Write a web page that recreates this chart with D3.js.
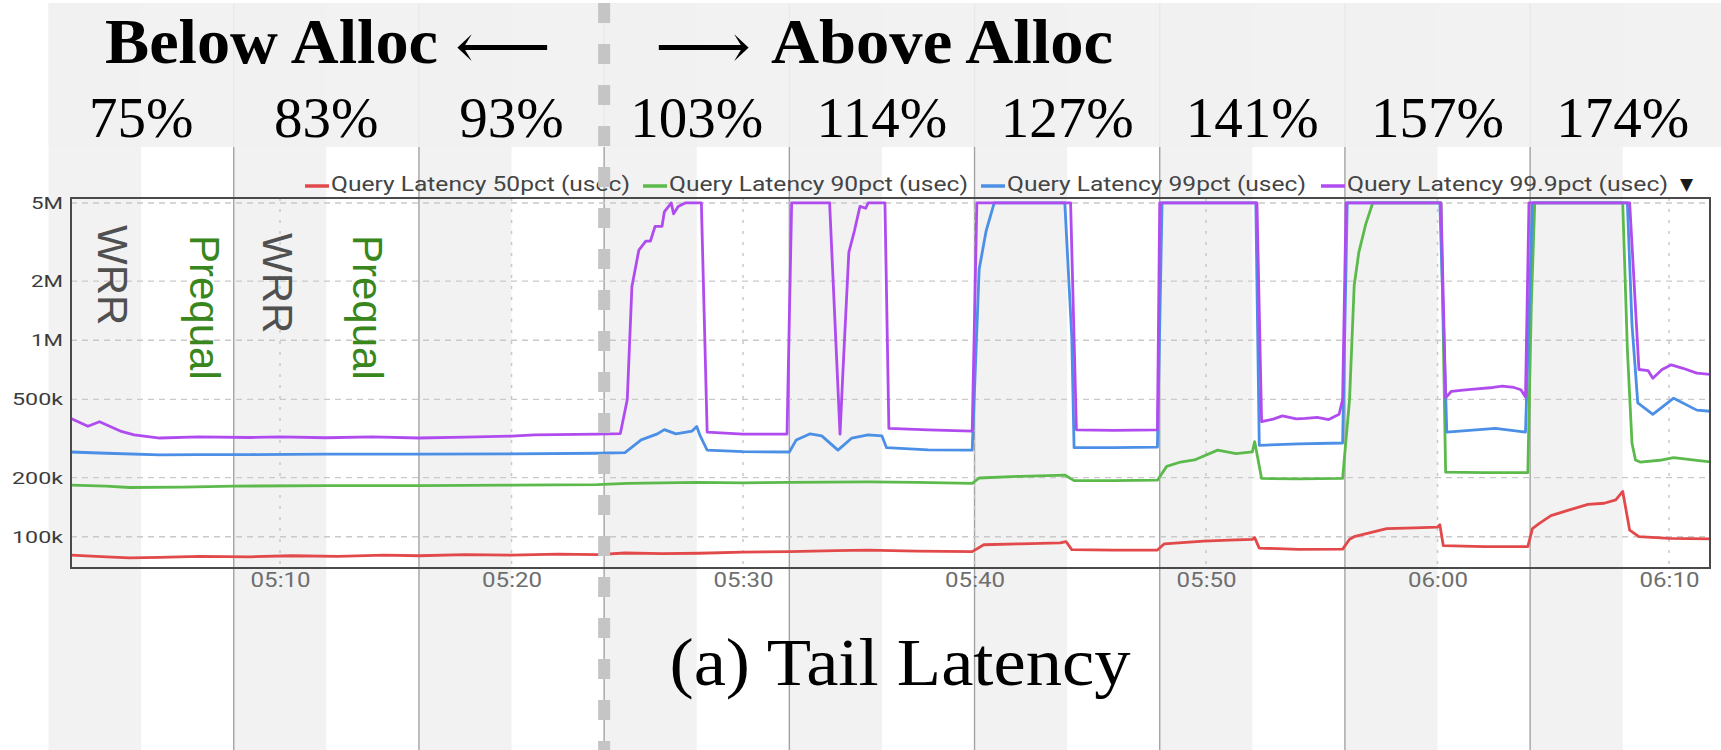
<!DOCTYPE html>
<html>
<head>
<meta charset="utf-8">
<script src="https://cdn.jsdelivr.net/npm/d3@7"></script>
<style>
  html, body { margin: 0; padding: 0; background: #fff; }
  svg { display: block; }
</style>
</head>
<body>
<svg id="chart" width="1721" height="750"></svg>
<script>
// Load levels, one per 8-minute step (first half WRR, second half Prequal)
const loadLevels = ["75%", "83%", "93%", "103%", "114%", "127%", "141%", "157%", "174%"];
const levelMinutes = 8;

// Axis ticks
const yTickValues = [5e6, 2e6, 1e6, 5e5, 2e5, 1e5];
const yTickLabels = ["5M", "2M", "1M", "500k", "200k", "100k"];
const xTickMinutes = [10, 20, 30, 40, 50, 60, 70];
const xTickLabels = ["05:10", "05:20", "05:30", "05:40", "05:50", "06:00", "06:10"];

const seriesNames = [
  "Query Latency 50pct (usec)",
  "Query Latency 90pct (usec)",
  "Query Latency 99pct (usec)",
  "Query Latency 99.9pct (usec)"
];
const seriesColors = ["#e2494b", "#5cba4c", "#4b8fe6", "#b04cef"];

// [minutes after 05:00, latency in usec]
const p50 = [[0.97,80500],[2.5,79000],[3.5,78000],[4.8,78500],[6.5,79500],[8.7,79000],[10.5,80000],[12.5,79500],[14.5,80500],[16,80000],[18,81000],[20,80500],[22,81500],[23.7,81000],[24.9,82600],[26.5,82000],[28.1,82400],[30,83500],[32,84000],[34,85000],[35.4,85500],[37.5,84500],[39.9,84000],[40.4,91000],[42,92000],[43.7,93000],[43.95,94500],[44.2,86000],[46,85500],[47.9,85500],[48.2,92000],[49.9,95000],[51,96000],[52,97000],[52.1,99000],[52.3,87500],[54,86300],[55.9,86500],[56.2,97000],[56.4,100000],[57.8,110000],[59,111000],[60,112000],[60.1,115000],[60.25,90000],[62,89000],[63.9,89000],[64.1,110000],[64.4,117000],[64.9,128000],[65.7,137000],[66.5,146000],[67.2,148000],[67.7,154000],[68.0,170000],[68.3,108000],[68.7,100000],[70,98000],[71.8,97500]];

const p90 = [[0.97,183000],[2.5,181000],[3.5,178000],[5.8,179000],[8,181000],[12,182000],[16,182000],[20,183000],[23.7,184000],[25,187000],[28,189000],[30,188000],[32,189000],[35.4,190000],[37.5,189000],[39.9,187000],[40.2,199000],[42,203000],[43.9,206000],[44.3,193000],[46,193000],[47.9,194000],[48.3,228000],[48.9,240000],[49.5,246000],[50.5,276000],[51.3,265000],[52.0,270000],[52.1,305000],[52.4,198000],[54,197000],[55.9,198000],[56.2,500000],[56.4,1900000],[56.6,2800000],[56.9,3900000],[57.2,5000000],[60.15,5000000],[60.35,213000],[62,212000],[63.9,212000],[64.05,1500000],[64.2,5000000],[68.0,5000000],[68.2,900000],[68.4,300000],[68.55,246000],[68.75,240000],[69.6,245000],[70.2,253000],[71.2,245000],[71.8,240000]];

const p99 = [[0.97,270000],[2.5,266000],[4.8,261000],[6.5,262000],[8.7,262000],[12,263000],[16,263000],[20,264000],[23.7,266000],[24.9,268000],[25.6,311000],[26.3,334000],[26.6,351000],[27.1,334000],[27.8,345000],[28.0,364000],[28.15,326000],[28.45,276000],[30,271000],[32,270000],[32.3,311000],[32.9,334000],[33.4,326000],[34.1,276000],[34.7,318000],[35.4,330000],[36.0,326000],[36.2,284000],[38,277000],[39.9,276000],[40.2,2300000],[40.5,3600000],[40.85,5000000],[43.9,5000000],[44.2,1040000],[44.3,284000],[46,284000],[47.9,286000],[48.1,5000000],[52.15,5000000],[52.3,292000],[54,297000],[55.9,300000],[56.1,5000000],[60.1,5000000],[60.4,341000],[62.5,356000],[63.8,341000],[64.1,5000000],[68.2,5000000],[68.4,1200000],[68.65,480000],[69.3,420000],[70.2,507000],[71.2,441000],[71.8,435000]];

const p999 = [[0.97,400000],[1.7,365000],[2.2,385000],[3.1,345000],[3.7,330000],[4.8,318000],[6.5,322000],[8.7,320000],[10,322000],[12,319000],[14,322000],[16,318000],[18,321000],[20,325000],[21,330000],[23.7,333000],[24.7,335000],[25.0,500000],[25.2,1880000],[25.5,2880000],[25.8,3200000],[26.0,3200000],[26.2,3800000],[26.5,3800000],[26.6,4500000],[26.9,5000000],[27.0,4400000],[27.2,4800000],[27.5,5000000],[28.2,5000000],[28.45,341000],[30,333000],[31.9,333000],[32.1,5000000],[33.74,5000000],[34.19,333000],[34.32,710000],[34.57,2800000],[34.81,3600000],[35.05,4800000],[35.3,4700000],[35.4,5000000],[36.13,5000000],[36.3,356000],[38,350000],[39.9,345000],[40.1,5000000],[44.15,5000000],[44.4,350000],[46,348000],[47.9,350000],[48.0,5000000],[52.2,5000000],[52.4,385000],[52.9,397000],[53.3,412000],[53.9,398000],[54.3,400000],[54.8,405000],[55.3,395000],[55.75,420000],[55.9,500000],[56.05,5000000],[60.15,5000000],[60.35,510000],[60.6,550000],[61.1,558000],[61.7,566000],[62.4,575000],[62.8,585000],[63.3,575000],[63.6,560000],[63.8,515000],[63.95,5000000],[68.3,5000000],[68.7,710000],[69.1,700000],[69.3,640000],[69.7,710000],[70.1,750000],[70.6,720000],[71.2,680000],[71.8,670000]];

const seriesData = [p50, p90, p99, p999];

// ---------------------------------------------------------------
const W = 1721, H = 750;
const svg = d3.select("#chart");
const base = new Date(2024, 0, 1, 5, 0, 0);
const at = m => new Date(base.getTime() + m * 60000);

const plot = { left: 71, right: 1710, top: 198, bottom: 568 };
const x = d3.scaleTime().domain([at(0.97), at(71.77)]).range([plot.left, plot.right]);
const y = d3.scaleLog().domain([69300, 5.3e6]).range([plot.bottom, plot.top]);

// Shaded halves (WRR) of each load level, full height
const bands = svg.append("g");
loadLevels.forEach((_, i) => {
  const s = i * levelMinutes;
  bands.append("rect")
    .attr("x", x(at(s)))
    .attr("y", 3)
    .attr("width", x(at(s + levelMinutes / 2)) - x(at(s)))
    .attr("height", H - 3)
    .attr("fill", "#f2f2f2");
});

// Solid separators between load levels
loadLevels.slice(1).forEach((_, i) => {
  const xx = x(at((i + 1) * levelMinutes));
  svg.append("line")
    .attr("x1", xx).attr("x2", xx).attr("y1", 3).attr("y2", H)
    .attr("stroke", "#a3a3a3").attr("stroke-width", 1.4);
});

// Header strip behind the titles
svg.append("rect")
  .attr("x", x(at(0))).attr("y", 3)
  .attr("width", W - x(at(0))).attr("height", 144)
  .attr("fill", "#f1f1f1").attr("opacity", 0.9);

// Grid lines
const grid = svg.append("g");
yTickValues.forEach(v => {
  grid.append("line")
    .attr("x1", plot.left).attr("x2", plot.right)
    .attr("y1", y(v)).attr("y2", y(v))
    .attr("stroke", "#c9c9c9").attr("stroke-width", 1.4)
    .attr("stroke-dasharray", "6,5");
});
xTickMinutes.forEach(m => {
  grid.append("line")
    .attr("x1", x(at(m))).attr("x2", x(at(m)))
    .attr("y1", plot.top).attr("y2", plot.bottom)
    .attr("stroke", "#c9c9c9").attr("stroke-width", 1.5)
    .attr("stroke-dasharray", "3,8");
});

// Series
svg.append("clipPath").attr("id", "plotClip")
  .append("rect")
  .attr("x", plot.left).attr("y", plot.top - 2)
  .attr("width", plot.right - plot.left).attr("height", plot.bottom - plot.top + 2);

const line = d3.line()
  .x(d => x(at(d[0])))
  .y(d => y(d[1]));

const lines = svg.append("g").attr("clip-path", "url(#plotClip)");
seriesData.forEach((data, i) => {
  lines.append("path")
    .datum(data)
    .attr("d", line)
    .attr("fill", "none")
    .attr("stroke", seriesColors[i])
    .attr("stroke-width", 2.8)
    .attr("stroke-linejoin", "round");
});

// Plot frame
svg.append("rect")
  .attr("x", plot.left).attr("y", plot.top)
  .attr("width", plot.right - plot.left).attr("height", plot.bottom - plot.top)
  .attr("fill", "none").attr("stroke", "#4a4a4a").attr("stroke-width", 2);

// Y axis
const yAxis = svg.append("g")
  .attr("transform", "translate(63,0)")
  .call(d3.axisLeft(y).tickValues(yTickValues)
    .tickFormat((d, i) => yTickLabels[i]).tickSize(0).tickPadding(0));
yAxis.select(".domain").remove();
yAxis.selectAll("text")
  .attr("font-family", "Roboto, 'Liberation Sans', sans-serif")
  .attr("font-size", 17)
  .attr("fill", "#3c3c3c")
  .attr("textLength", (d, i) => yTickLabels[i].length > 2 ? 51 : 32)
  .attr("lengthAdjust", "spacingAndGlyphs");

// X axis
const xAxis = svg.append("g")
  .attr("transform", `translate(0,${plot.bottom})`)
  .call(d3.axisBottom(x).tickValues(xTickMinutes.map(at))
    .tickFormat((d, i) => xTickLabels[i]).tickSize(0).tickPadding(5));
xAxis.select(".domain").remove();
xAxis.selectAll("text")
  .attr("font-family", "Roboto, 'Liberation Sans', sans-serif")
  .attr("font-size", 20)
  .attr("fill", "#6e6e6e")
  .attr("textLength", 60)
  .attr("lengthAdjust", "spacingAndGlyphs");

// Legend
const legendX = [305, 643, 981, 1321];
const legend = svg.append("g");
seriesNames.forEach((name, i) => {
  legend.append("line")
    .attr("x1", legendX[i]).attr("x2", legendX[i] + 24)
    .attr("y1", 186).attr("y2", 186)
    .attr("stroke", seriesColors[i]).attr("stroke-width", 3.5);
  legend.append("text")
    .attr("x", legendX[i] + 26).attr("y", 191)
    .attr("font-family", "Roboto, 'Liberation Sans', sans-serif")
    .attr("font-size", 20.5)
    .attr("fill", "#444")
    .attr("textLength", name.length > 26 ? 321 : 299)
    .attr("lengthAdjust", "spacingAndGlyphs")
    .text(name);
});
legend.append("text")
  .attr("x", 1680).attr("y", 190)
  .attr("font-family", "'DejaVu Sans', sans-serif")
  .attr("font-size", 17)
  .attr("fill", "#1a1a1a")
  .text("▼");

// Method labels inside the first two load levels
const methodLabels = [
  { text: "WRR", m: 2.14, top: 225, color: "#505050" },
  { text: "Prequal", m: 6.1, top: 235, color: "#38861c" },
  { text: "WRR", m: 9.27, top: 233, color: "#505050" },
  { text: "Prequal", m: 13.15, top: 235, color: "#38861c" }
];
methodLabels.forEach(d => {
  svg.append("text")
    .attr("transform", `translate(${x(at(d.m))},${d.top}) rotate(90)`)
    .attr("font-family", "'Liberation Sans', Arial, sans-serif")
    .attr("font-size", 42)
    .attr("fill", d.color)
    .text(d.text);
});

// Titles
const serif = "'Liberation Serif', 'Times New Roman', serif";
const arrowFont = "'DejaVu Serif', 'DejaVu Sans', serif";
svg.append("text")
  .attr("x", 105).attr("y", 63)
  .attr("font-family", serif).attr("font-weight", "bold").attr("font-size", 63)
  .attr("textLength", 333).attr("lengthAdjust", "spacingAndGlyphs")
  .attr("fill", "#000")
  .text("Below Alloc");
svg.append("text")
  .attr("x", 455).attr("y", 68)
  .attr("font-family", arrowFont).attr("font-size", 63)
  .attr("textLength", 96).attr("lengthAdjust", "spacingAndGlyphs")
  .attr("fill", "#000")
  .text("⟵");
svg.append("text")
  .attr("x", 655).attr("y", 68)
  .attr("font-family", arrowFont).attr("font-size", 63)
  .attr("textLength", 96).attr("lengthAdjust", "spacingAndGlyphs")
  .attr("fill", "#000")
  .text("⟶");
svg.append("text")
  .attr("x", 771).attr("y", 63)
  .attr("font-family", serif).attr("font-weight", "bold").attr("font-size", 63)
  .attr("textLength", 342).attr("lengthAdjust", "spacingAndGlyphs")
  .attr("fill", "#000")
  .text("Above Alloc");

// Load percentages centred on each level
loadLevels.forEach((lbl, i) => {
  svg.append("text")
    .attr("x", x(at(i * levelMinutes + levelMinutes / 2)))
    .attr("y", 137)
    .attr("text-anchor", "middle")
    .attr("font-family", serif).attr("font-size", 57)
    .attr("fill", "#000")
    .text(lbl);
});

// Caption
svg.append("text")
  .attr("x", 900).attr("y", 685).attr("text-anchor", "middle")
  .attr("font-family", serif).attr("font-size", 68)
  .attr("textLength", 461).attr("lengthAdjust", "spacingAndGlyphs")
  .attr("fill", "#000")
  .text("(a) Tail Latency");

// Allocation divider (between 93% and 103%)
const divX = x(at(3 * levelMinutes));
svg.append("line")
  .attr("x1", divX).attr("x2", divX).attr("y1", 3).attr("y2", H)
  .attr("stroke", "#c5c5c5").attr("stroke-width", 12)
  .attr("stroke-dasharray", "20,21");
</script>
</body>
</html>
